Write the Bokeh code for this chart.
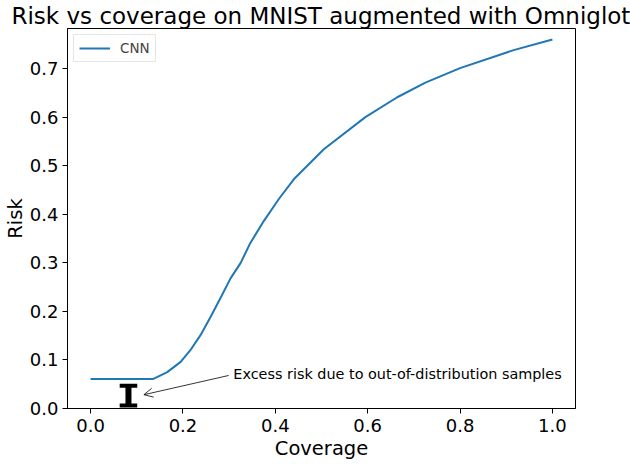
from bokeh.plotting import figure
from bokeh.models import Range1d, FixedTicker, Label, Arrow, OpenHead
from bokeh.embed import file_html
from bokeh.resources import INLINE

# ---- data ----
coverage = [0.0, 0.136, 0.166, 0.195, 0.216, 0.238, 0.26, 0.281, 0.303, 0.325,
            0.346, 0.375, 0.408, 0.44, 0.505, 0.595, 0.664, 0.725, 0.8, 0.916, 1.0]
risk = [0.061, 0.061, 0.075, 0.096, 0.12, 0.151, 0.189, 0.227, 0.268, 0.30,
        0.341, 0.386, 0.432, 0.472, 0.534, 0.60, 0.641, 0.671, 0.701, 0.738, 0.760]
x_ticks = [0.0, 0.2, 0.4, 0.6, 0.8, 1.0]
y_ticks = [0.0, 0.1, 0.2, 0.3, 0.4, 0.5, 0.6, 0.7]
series_label = "CNN"
title_text = "Risk vs coverage on MNIST augmented with Omniglot"
x_label = "Coverage"
y_label = "Risk"
note_text = "Excess risk due to out-of-distribution samples"

# excess-risk marker and annotation anchor points (data coordinates)
marker_x = 0.082
marker_low = 0.006
marker_high = 0.047
marker_half = 0.019
arrow_tail = (0.299, 0.068)
arrow_tip = (0.1154, 0.0284)
note_pos = (0.309, 0.0704)

FONT = "DejaVu Sans"
Y_END = 0.7826

p = figure(width=630, height=464, output_backend="svg", toolbar_location=None,
           x_range=Range1d(-0.05, 1.05), y_range=Range1d(0, Y_END),
           min_border_left=67, min_border_right=55, min_border_top=25,
           min_border_bottom=56)
p.xgrid.visible = False
p.ygrid.visible = False
p.outline_line_color = "black"
p.outline_line_width = 1
p.outline_line_alpha = 1.0
p.background_fill_color = "white"
p.border_fill_color = "white"

p.title.text = title_text
p.title.text_font = FONT
p.title.text_font_size = "23px"
p.title.text_font_style = "normal"
p.title.text_color = "black"
p.title.align = "left"
p.title.offset = -56
p.title.standoff = 0

p.line(coverage, risk, line_color="#1f77b4", line_width=2, legend_label=series_label)

# I-shaped marker
p.segment(x0=[marker_x], y0=[marker_low], x1=[marker_x], y1=[marker_high],
          line_color="black", line_width=6)
p.segment(x0=[marker_x - marker_half, marker_x - marker_half],
          y0=[marker_low, marker_high],
          x1=[marker_x + marker_half, marker_x + marker_half],
          y1=[marker_low, marker_high],
          line_color="black", line_width=4)

p.add_layout(Arrow(end=OpenHead(size=9, line_width=0.8, line_color="black"),
                   x_start=arrow_tail[0], y_start=arrow_tail[1],
                   x_end=arrow_tip[0], y_end=arrow_tip[1],
                   line_width=0.8, line_color="black"))
p.add_layout(Label(x=note_pos[0], y=note_pos[1], text=note_text,
                   text_font=FONT, text_font_size="14.4px",
                   text_baseline="alphabetic", text_align="left",
                   text_color="black"))

p.xaxis.axis_label = x_label
p.yaxis.axis_label = y_label
p.xaxis.ticker = FixedTicker(ticks=x_ticks)
p.yaxis.ticker = FixedTicker(ticks=y_ticks)
p.xaxis.major_label_overrides = {t: f"{t:.1f}" for t in x_ticks}
p.yaxis.major_label_overrides = {t: f"{t:.1f}" for t in y_ticks}
for ax in (p.xaxis[0], p.yaxis[0]):
    ax.axis_line_color = "black"
    ax.major_tick_line_color = "black"
    ax.major_tick_out = 5
    ax.major_tick_in = 0
    ax.minor_tick_line_color = None
    ax.major_label_text_font = FONT
    ax.major_label_text_font_size = "18px"
    ax.major_label_text_color = "black"
    ax.axis_label_text_font = FONT
    ax.axis_label_text_font_size = "19.5px"
    ax.axis_label_text_font_style = "normal"
    ax.axis_label_text_color = "black"
p.xaxis.major_label_standoff = 5
p.xaxis.axis_label_standoff = 2
p.yaxis.major_label_standoff = 4
p.yaxis.axis_label_standoff = 0

lg = p.legend[0]
lg.location = "top_left"
lg.margin = 6
lg.padding = 5
lg.spacing = 0
lg.label_text_font = FONT
lg.label_text_font_size = "13.5px"
lg.glyph_width = 31
lg.glyph_height = 16
lg.label_height = 16
lg.label_standoff = 10
lg.border_line_color = "#cccccc"
lg.border_line_width = 1
lg.background_fill_alpha = 0.8

open("out.html", "w").write(file_html(p, INLINE))
